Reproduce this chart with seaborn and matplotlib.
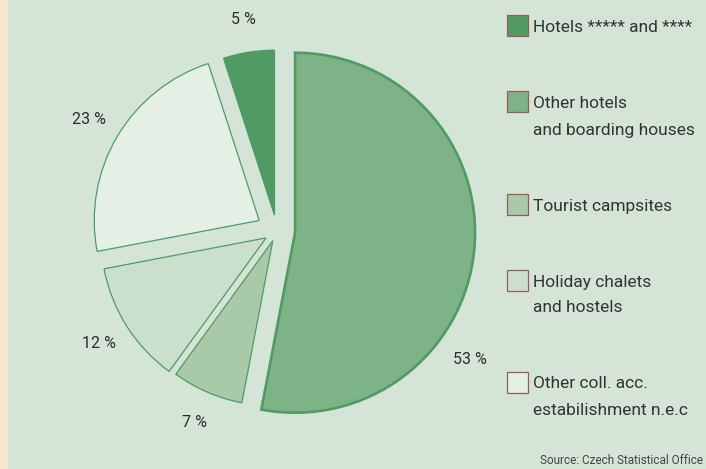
import numpy as np
import matplotlib
matplotlib.use("Agg")
import matplotlib.pyplot as plt
import seaborn as sns
from matplotlib.patches import Rectangle

# data
categories = ["Hotels ***** and ****", "Other hotels\nand boarding houses", "Tourist campsites",
              "Holiday chalets\nand hostels", "Other coll. acc.\nestabilishment n.e.c"]
shares = [5, 53, 7, 12, 23]
colors = ["#4f9b63", "#7db387", "#a8caa9", "#cbe0cc", "#e4efe6"]

sns.set_theme(style="white")
plt.rcParams["font.family"] = ["Roboto", "DejaVu Sans"]

bg = "#d4e5d7"
W, H = 706, 469
fig = plt.figure(figsize=(W / 100, H / 100), dpi=100)
fig.patch.set_facecolor("#f5e6cc")
ax = fig.add_axes([8 / W, 0, 1 - 8 / W, 1])
ax.set_facecolor(bg)

wedges, texts = ax.pie(shares, startangle=108, counterclock=False, colors=colors,
                       explode=[0.097, 0.11, 0.064, 0.078, 0.125],
                       labels=["%d %%" % s for s in shares], labeldistance=1.2,
                       wedgeprops=dict(edgecolor="#4f9b63", linewidth=0.9),
                       textprops=dict(fontsize=11.5, color="#2b2b2b"))

# the big slice is drawn larger and with a heavier outline
big = int(np.argmax(shares))
wedges[big].set_radius(180 / 165)
wedges[big].set_linewidth(1.9)
cx, cy = wedges[big].center
ang = np.deg2rad(-36)
texts[big].set_position((cx + 1.31 * np.cos(ang), cy + 1.31 * np.sin(ang)))
for t in texts:
    t.set_ha("center")
    t.set_va("center")

# pixel-true limits: radius 1 == 165 px, centre at (277, 231) from top-left
r = 165
ax.set_aspect("auto")
ax.set_xlim(-(277 - 8) / r, (W - 277) / r)
ax.set_ylim(-(H - 231) / r, 231 / r)
ax.axis("off")
ax.add_patch(Rectangle((0, 0), 1, 1, transform=ax.transAxes, color=bg, zorder=-5))

# legend drawn by hand so the box lines up with the first text line
y = 26
for lab, col in zip(categories, colors):
    fy = 1 - y / H
    fig.patches.append(Rectangle((507 / W, fy - 10.5 / H), 21 / W, 21 / H, transform=fig.transFigure,
                                 facecolor=col, edgecolor="#9a5a5a", linewidth=0.9))
    lines = lab.split("\n")
    for i, line in enumerate(lines):
        fig.text(533 / W, 1 - (y + 6.5 + 26 * i) / H, line, ha="left", va="baseline",
                 fontsize=12.5, color="#333333", transform=fig.transFigure)
    y += 50 + 26 * len(lines)

fig.text(703 / W, 1 - 460 / H, "Source: Czech Statistical Office", ha="right", va="center",
         fontsize=8.5, color="#444444")

fig.savefig("out.png", dpi=100, facecolor=fig.get_facecolor())
